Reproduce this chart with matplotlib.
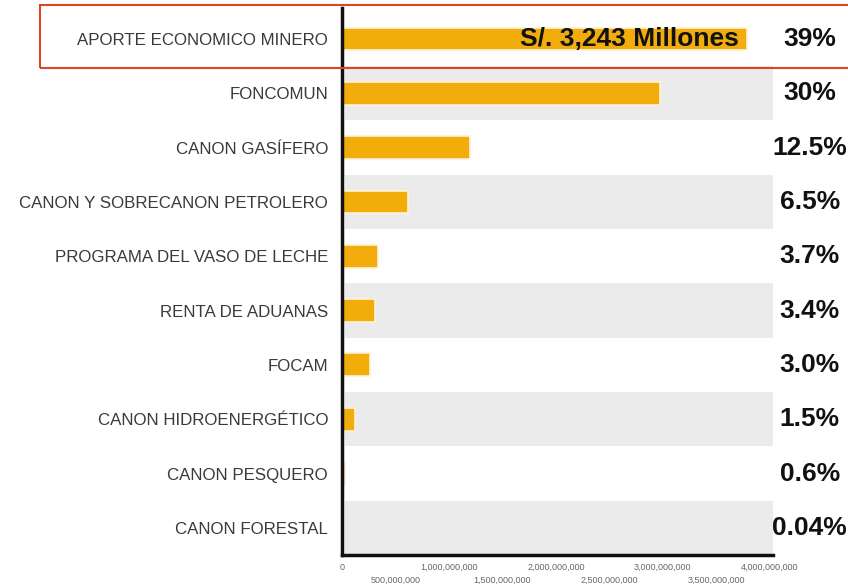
import matplotlib
matplotlib.use("Agg")
import matplotlib.pyplot as plt
from matplotlib.patches import Rectangle

categories = ["APORTE ECONOMICO MINERO", "FONCOMUN", "CANON GASÍFERO",
              "CANON Y SOBRECANON PETROLERO", "PROGRAMA DEL VASO DE LECHE",
              "RENTA DE ADUANAS", "FOCAM", "CANON HIDROENERGÉTICO",
              "CANON PESQUERO", "CANON FORESTAL"]
values = [3.79e9, 2.97e9, 1.20e9, 0.615e9, 0.335e9, 0.31e9, 0.26e9, 0.12e9, 0.03e9, 0.002e9]
percents = ["39%", "30%", "12.5%", "6.5%", "3.7%", "3.4%", "3.0%", "1.5%", "0.6%", "0.04%"]
tick_values = [0, 500e6, 1000e6, 1500e6, 2000e6, 2500e6, 3000e6, 3500e6, 4000e6]
tick_labels = ["0", "500,000,000", "1,000,000,000", "1,500,000,000", "2,000,000,000",
               "2,500,000,000", "3,000,000,000", "3,500,000,000", "4,000,000,000"]
highlight_text = "S/. 3,243 Millones"

plt.rcParams['font.family'] = ['Liberation Sans', 'DejaVu Sans']

fig = plt.figure(figsize=(8.48, 5.87), dpi=100)
ax = fig.add_axes([342/848, 1-555/587, (773-342)/848, (555-8)/587])

n = len(categories)
ypos = list(range(n))
bar_color = "#F2AC0C"

for i in ypos:
    if i % 2 == 1:
        ax.axhspan(i - 0.5, i + 0.5, xmin=0.008, xmax=1.0, color="#EBEBEB", lw=0, zorder=0)

ax.barh(ypos, values, height=0.42, color=bar_color, edgecolor="#FFF3D6", linewidth=1.2, zorder=2)

ax.set_xlim(0, 4.03e9)
ax.set_ylim(n - 0.5, -0.57)

ax.set_yticks(ypos)
ax.set_yticklabels(categories, fontsize=12.2, color="#3a3a3a")
ax.tick_params(axis='y', length=0, pad=10)

ax.set_xticks(tick_values)
ax.set_xticklabels([])
ax.tick_params(axis='x', length=0)
for k, (tv, tl) in enumerate(zip(tick_values, tick_labels)):
    yoff = -0.022 if k % 2 == 0 else -0.046
    ax.text(tv, yoff, tl, transform=ax.get_xaxis_transform(), ha='center', va='center',
            fontsize=6.5, color="#666666")

for s in ["top", "right"]:
    ax.spines[s].set_visible(False)
ax.spines["left"].set_linewidth(2.5)
ax.spines["left"].set_color("#111111")
ax.spines["bottom"].set_linewidth(2.5)
ax.spines["bottom"].set_color("#111111")

for i, p in enumerate(percents):
    ax.text(1.085, i, p, transform=ax.get_yaxis_transform(), ha='center', va='center',
            fontsize=19, fontweight='bold', color="#111111")

ax.text(values[0] - 0.08e9, 0, highlight_text, ha='right', va='center',
        fontsize=19, fontweight='bold', color="#111111", zorder=3)

rect = Rectangle((40/848, 1-68/587), (850-40)/848, (68-5)/587, transform=fig.transFigure,
                 fill=False, edgecolor="#D9481F", linewidth=1.5, clip_on=False)
fig.patches.append(rect)

fig.savefig("out.png", dpi=100)
